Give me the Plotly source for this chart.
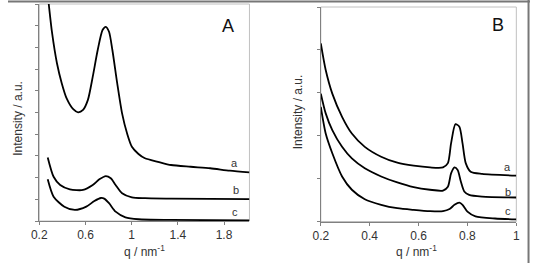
import plotly.graph_objects as go

# ---- Panel A data ----
qa_a = [0.27, 0.282, 0.31, 0.353, 0.395, 0.437, 0.494, 0.536, 0.579, 0.621, 0.663, 0.706, 0.748, 0.776,
        0.804, 0.833, 0.875, 0.917, 0.96, 1.002, 1.059, 1.115, 1.228, 1.341, 1.511, 1.68, 1.85, 2.02]
ia_a = [10.6, 10.0, 8.7, 7.27, 6.34, 5.65, 5.15, 5.01, 5.12, 5.58, 6.65, 7.88, 8.8, 8.95,
        8.72, 7.88, 6.34, 4.96, 4.04, 3.42, 3.09, 2.89, 2.73, 2.58, 2.5, 2.43, 2.32, 2.24]
qa_b = [0.273, 0.324, 0.381, 0.465, 0.579, 0.663, 0.72, 0.776, 0.819, 0.861, 0.917, 1.002, 1.115, 1.341, 2.02]
ia_b = [2.93, 2.04, 1.66, 1.46, 1.43, 1.66, 1.92, 2.07, 1.97, 1.66, 1.28, 1.09, 1.05, 1.03, 1.01]
qa_c = [0.273, 0.324, 0.417, 0.508, 0.607, 0.677, 0.734, 0.762, 0.804, 0.861, 0.946, 1.059, 1.341, 2.02]
ia_c = [1.92, 1.12, 0.66, 0.51, 0.66, 0.92, 1.06, 1.03, 0.82, 0.43, 0.17, 0.08, 0.05, 0.03]

# ---- Panel B data ----
qb_a = [0.2, 0.22, 0.247, 0.287, 0.327, 0.38, 0.447, 0.513, 0.58, 0.647, 0.70, 0.72, 0.733, 0.751,
        0.767, 0.78, 0.793, 0.813, 0.86, 1.0]
ib_a = [4.15, 3.53, 2.98, 2.44, 2.05, 1.74, 1.51, 1.37, 1.30, 1.26, 1.26, 1.36, 1.82, 2.27,
        2.21, 1.82, 1.36, 1.16, 1.11, 1.07]
qb_b = [0.2, 0.22, 0.247, 0.287, 0.327, 0.38, 0.447, 0.513, 0.58, 0.647, 0.70, 0.72, 0.733, 0.747,
        0.76, 0.773, 0.787, 0.807, 0.86, 1.0]
ib_b = [2.98, 2.52, 2.13, 1.74, 1.47, 1.24, 1.05, 0.91, 0.80, 0.74, 0.72, 0.81, 1.12, 1.26,
        1.20, 0.93, 0.70, 0.62, 0.58, 0.56]
qb_c = [0.2, 0.22, 0.247, 0.287, 0.327, 0.38, 0.447, 0.513, 0.58, 0.647, 0.70, 0.727, 0.747, 0.767,
        0.78, 0.8, 0.833, 0.913, 1.0]
ib_c = [2.67, 2.05, 1.59, 1.05, 0.74, 0.52, 0.39, 0.31, 0.27, 0.24, 0.24, 0.29, 0.39, 0.44,
        0.39, 0.23, 0.12, 0.07, 0.05]

xticks_a = [0.2, 0.6, 1.0, 1.4, 1.8]
xticklabels_a = ["0.2", "0.6", "1", "1.4", "1.8"]
xticks_b = [0.2, 0.4, 0.6, 0.8, 1.0]
xticklabels_b = ["0.2", "0.4", "0.6", "0.8", "1"]
yticks_a = list(range(0, 11))
yticks_b = list(range(0, 6))

FONT = "Liberation Sans, Arial, sans-serif"
TXT = "#333333"
W, H = 534, 263

fig = go.Figure()
line = dict(color="black", width=1.8, shape="spline", smoothing=0.7)
for q, i in [(qa_a, ia_a), (qa_b, ia_b), (qa_c, ia_c)]:
    fig.add_trace(go.Scatter(x=q, y=i, mode="lines", line=line, xaxis="x", yaxis="y",
                             showlegend=False, hoverinfo="skip"))
for q, i in [(qb_a, ib_a), (qb_b, ib_b), (qb_c, ib_c)]:
    fig.add_trace(go.Scatter(x=q, y=i, mode="lines", line=line, xaxis="x2", yaxis="y2",
                             showlegend=False, hoverinfo="skip"))

def px_x(p):
    return p / W

def px_y(p):
    return 1 - p / H

axcommon = dict(showgrid=False, zeroline=False, showline=True, linecolor="#808080", linewidth=1,
                ticks="outside", ticklen=3, tickcolor="#808080",
                tickfont=dict(family=FONT, size=12, color=TXT))

fig.update_layout(
    width=W, height=H, margin=dict(l=0, r=0, t=0, b=0),
    paper_bgcolor="white", plot_bgcolor="white",
    xaxis=dict(domain=[px_x(32), px_x(247)], range=[0.2, 2.02], anchor="y",
               tickvals=xticks_a, ticktext=xticklabels_a, **axcommon),
    yaxis=dict(domain=[px_y(221), px_y(4)], range=[0, 10], anchor="x",
               tickvals=yticks_a, showticklabels=False, **axcommon),
    xaxis2=dict(domain=[px_x(320), px_x(520)], range=[0.2, 1.0], anchor="y2",
                tickvals=xticks_b, ticktext=xticklabels_b, **axcommon),
    yaxis2=dict(domain=[px_y(221.5), px_y(7)], range=[0, 5], anchor="x2",
                tickvals=yticks_b, showticklabels=False, **axcommon),
)

# light box around each plot
for xr, yr in [("x domain", "y domain"), ("x2 domain", "y2 domain")]:
    fig.add_shape(type="rect", xref=xr, yref=yr, x0=0, x1=1, y0=0, y1=1,
                  line=dict(color="#c0c0c0", width=1), layer="below")

# outer frame (top and right)
fig.add_shape(type="line", xref="paper", yref="paper", x0=0, x1=1, y0=px_y(1.5), y1=px_y(1.5),
              line=dict(color="#777777", width=2))
fig.add_shape(type="line", xref="paper", yref="paper", x0=px_x(532.5), x1=px_x(532.5), y0=0, y1=1,
              line=dict(color="#777777", width=2))

def ann(text, x, y, size, angle=0, color=TXT):
    fig.add_annotation(text=text, xref="paper", yref="paper", x=px_x(x), y=px_y(y),
                       xanchor="center", yanchor="middle", showarrow=False, textangle=angle,
                       font=dict(family=FONT, size=size, color=color))

ann("Intensity / a.u.", 10, 118, 12, -90)
ann("Intensity / a.u.", 297, 112, 12, -90)
ann("q / nm<sup>-1</sup>", 140, 251, 12)
ann("q / nm<sup>-1</sup>", 418, 251, 12)
ann("A", 225, 26, 18, color="#111111")
ann("B", 501, 25, 18, color="#111111")
for lab, x, y in [("a", 232, 163), ("b", 233, 189.5), ("c", 232, 212),
                  ("a", 511, 167), ("b", 512, 192), ("c", 512, 211)]:
    ann(lab, x, y, 11)

fig.write_html("out.html")
